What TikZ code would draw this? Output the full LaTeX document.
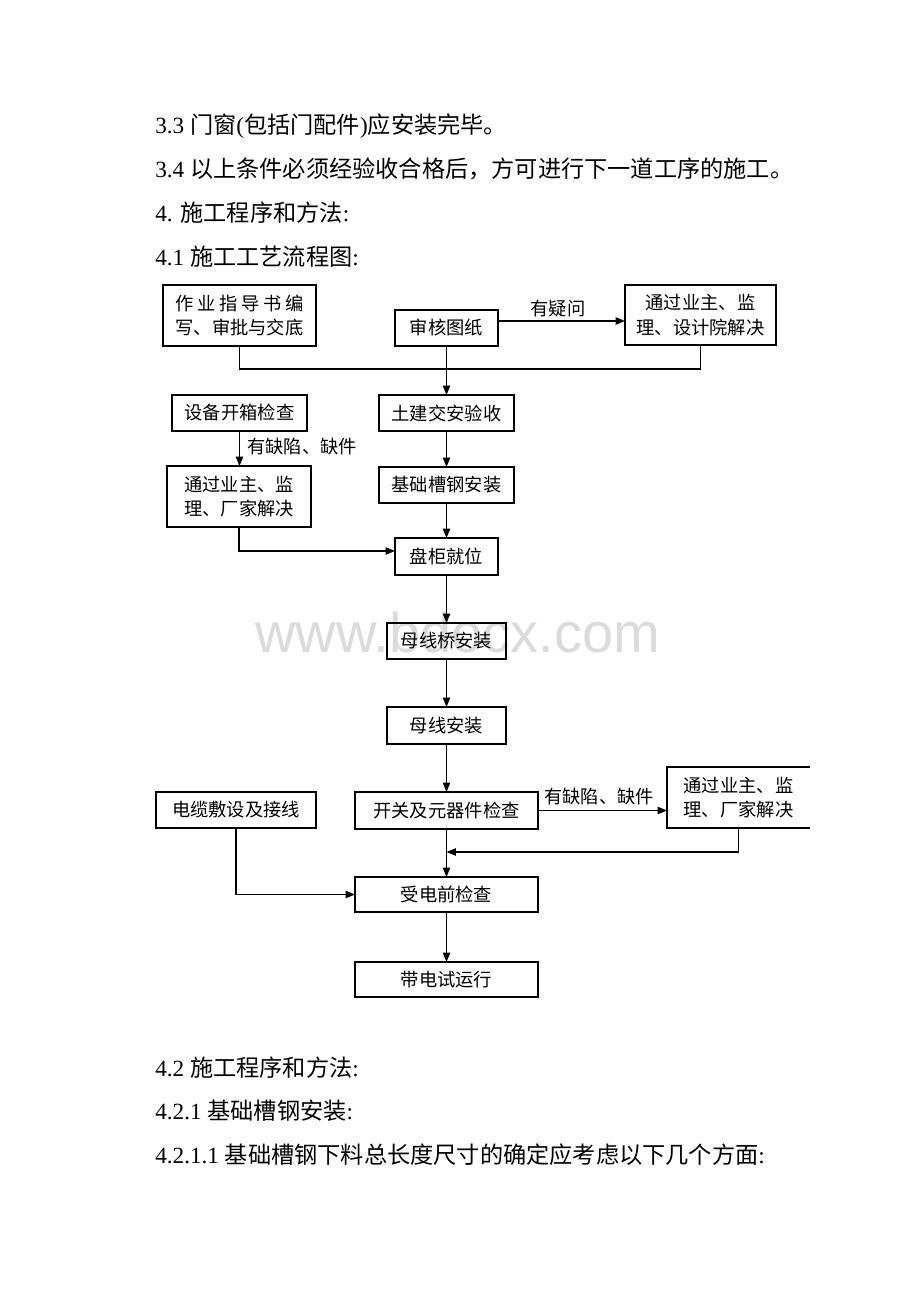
\documentclass[tikz,border=0pt]{standalone}
\usepackage{fontspec}
\setmainfont{Liberation Serif}
\newfontfamily\cjk{Noto Sans CJK SC}
\newfontfamily\wmfont{Liberation Sans}
\usetikzlibrary{arrows.meta}
\newcommand\boxfont{\cjk\fontsize{13.7pt}{18.4pt}\selectfont}
\newcommand\bodyfont{\fontsize{17.4pt}{21pt}\selectfont}
\newcommand\flowbox[7][]{\node[box,#1,minimum width={(#5-#3)*0.75pt},minimum height={(#6-#4)*0.75pt}] (#2) at ({(#3+#5)/2},{(#4+#6)/2}) {#7};}
\begin{document}
\begin{tikzpicture}[x=0.75pt,y=-0.75pt,
  box/.style={draw=black,line width=0.8pt,inner sep=0pt,outer sep=0pt,align=center,font=\boxfont},
  conn/.style={line width=0.8pt},
  arr/.style={line width=0.8pt,-{Triangle[length=7pt,width=5.5pt]}},
  lbl/.style={font=\boxfont,inner sep=0pt},
  body/.style={anchor=base west,inner sep=0pt,font=\bodyfont}]
\path[fill=white] (0,0) rectangle (920,1302);
\useasboundingbox (0,0) rectangle (920,1302);

% watermark
\node[anchor=base west,inner sep=0pt,text=black!14,font=\wmfont\fontsize{42pt}{42pt}\selectfont] (wm) at (255,652) {www.bdocx.com};

% body text
\node[body] (t1) at (155,133.5) {3.3 {\cjk 门窗}({\cjk 包括门配件}){\cjk 应安装完毕。}};
\node[body] (t2) at (155,177.5) {3.4 {\cjk 以上条件必须经验收合格后，方可进行下一道工序的施工。}};
\node[body] (t3) at (155,221.5) {4. {\cjk 施工程序和方法}:};
\node[body] (t4) at (155,265.5) {4.1 {\cjk 施工工艺流程图}:};
\node[body] (t5) at (155,1076.5) {4.2 {\cjk 施工程序和方法}:};
\node[body] (t6) at (155,1119.5) {4.2.1 {\cjk 基础槽钢安装}:};
\node[body] (t7) at (155,1163.5) {4.2.1.1 {\cjk 基础槽钢下料总长度尺寸的确定应考虑以下几个方面}:};

% boxes
\flowbox{zy}{163}{285}{316}{346}{\makebox[7em][s]{作\hfill 业\hfill 指\hfill 导\hfill 书\hfill 编}\\写、审批与交底}
\flowbox{sh}{395}{310}{498}{346}{审核图纸}
\flowbox{tg}{625}{285}{776}{345}{通过业主、监\\理、设计院解决}
\flowbox{sb}{172}{395}{307}{431}{设备开箱检查}
\flowbox{tj}{379}{395}{514}{431}{土建交安验收}
\flowbox{tl}{167}{466}{311}{527}{通过业主、监\\理、厂家解决}
\flowbox{jc}{379}{467}{514}{503}{基础槽钢安装}
\flowbox{pg}{395}{538}{498}{575}{盘柜就位}
\flowbox{mq}{387}{623}{506}{659}{母线桥安装}
\flowbox{mx}{387}{707}{506}{744}{母线安装}
\flowbox{dl}{156}{792}{316}{828}{电缆敷设及接线}
\flowbox{kg}{355}{792}{538}{829}{开关及元器件检查}
\flowbox[draw=none]{tr}{667}{767}{810}{828}{通过业主、监\\理、厂家解决}
\flowbox{sd}{355}{877}{538}{912}{受电前检查}
\flowbox{dd}{355}{962}{538}{997}{带电试运行}
\draw[conn] (tr.north east) -- (tr.north west) -- (tr.south west) -- (tr.south east);

% helper coordinates
\coordinate (yq) at (0,321);
\coordinate (j1) at (446.5,369);
\coordinate (j2) at (0,551);
\coordinate (j3) at (0,852);

% connectors
\draw[arr] (sh.east |- yq) -- (tg.west |- yq);
\node[lbl] (l1) at (558,309) {有疑问};
\draw[conn] (zy.south) |- (j1) -| (tg.south);
\draw[arr] (sh.south) -- (tj.north);
\draw[arr] (sb.south) -- (sb.south |- tl.north);
\node[lbl,anchor=west] (l2) at (247,447) {有缺陷、缺件};
\draw[arr] (tj.south) -- (jc.north);
\draw[arr] (jc.south) -- (pg.north);
\draw[arr] (tl.south) |- (pg.west |- j2);
\draw[arr] (pg.south) -- (mq.north);
\draw[arr] (mq.south) -- (mx.north);
\draw[arr] (mx.south) -- (kg.north);
\draw[arr] (kg.east) -- (kg.east -| tr.west);
\node[lbl] (l3) at (599,797) {有缺陷、缺件};
\draw[arr] (tr.south) |- (kg.south |- j3);
\draw[arr] (kg.south) -- (sd.north);
\draw[arr] (dl.south) |- (sd.west);
\draw[arr] (sd.south) -- (dd.north);
\end{tikzpicture}
\end{document}
